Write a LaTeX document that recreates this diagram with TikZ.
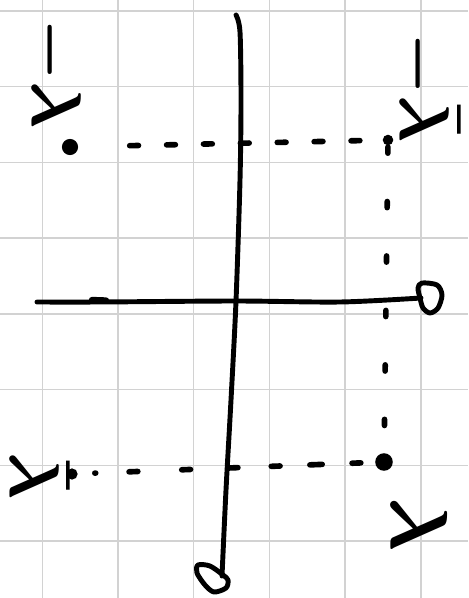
\documentclass[tikz,border=0pt]{standalone}
\usepackage{amsmath}
\definecolor{gridgray}{HTML}{D2D2D2}
\tikzstyle{penline} = [line width=2.8pt, line cap=round, line join=round]
\tikzstyle{guide} = [line width=3.2pt, line cap=round]
\tikzstyle{gridline} = [gridgray, line width=0.8pt]
\tikzstyle{lbl} = [rotate=-90, inner sep=0pt]
\newcommand{\hand}[1]{\scalebox{4}{$\boldsymbol{#1}$}}

\begin{document}
\begin{tikzpicture}[x=0.02cm,y=-0.02cm]
    \fill[white] (0,0) rectangle (468,598);
    \useasboundingbox (0,0) rectangle (468,598);
    \begin{scope}
        \foreach \gx in {42.3,118,193.7,269.4,345.1,420.8}
            \draw[gridline] (\gx,0) -- (\gx,598);
        \foreach \gy in {11,86.7,162.4,238.1,313.8,389.5,465.2,540.9}
            \draw[gridline] (0,\gy) -- (468,\gy);
    \end{scope}
    % the four points
    \coordinate (mlam) at (70,147);
    \coordinate (mlambar) at (388,140);
    \coordinate (lam) at (384,462);
    \coordinate (lambar) at (72,474);
    \draw[guide, dash pattern=on 5pt off 16pt, shorten <=34pt, shorten >=11pt] (mlam) -- (mlambar);
    \draw[guide, dash pattern=on 3.5pt off 27.5pt, shorten <=4pt, shorten >=15pt] (mlambar) -- (lam);
    \draw[guide, dash pattern=on 0.5pt off 19pt on 5pt off 25pt on 5pt off 22pt on 5pt off 19pt on 5pt off 17pt on 7pt off 17pt on 5pt off 30pt, shorten <=13pt, shorten >=10pt] (lambar) -- (lam);
    \fill (mlam) circle (4.6pt);
    \fill (lam) circle (5pt);
    \fill (mlambar) circle (3pt);
    \fill (lambar) circle (3.2pt);
    % axes
    \draw[penline] plot[smooth] coordinates {(236,15) (240,32) (241,100) (240,180) (236,301) (231,400) (226,490) (222,576)};
    \draw[penline] plot[smooth cycle] coordinates {(223,575) (210,566) (198,565) (197,573) (205,585) (214,592) (226,588) (228,580)};
    \draw[penline] plot[smooth] coordinates {(37,302) (100,302) (236,301) (340,302) (421,298)};
    \draw[penline, line width=3.6pt] (92,300) -- (106,300.5);
    \draw[penline] plot[smooth cycle] coordinates {(420,298) (418,288) (422,283) (437,285) (442,295) (438,308) (430,313) (423,308)};
    % labels
    \node[lbl] (tmlam) at (52,74) {\hand{-\lambda}};
    \node[lbl] (tmlambar) at (426,88) {\hand{-\bar{\lambda}}};
    \node[lbl] (tlambar) at (40,476) {\hand{\bar{\lambda}}};
    \node[lbl, scale=1.15] (tlam) at (420,525) {\hand{\lambda}};
\end{tikzpicture}
\end{document}
